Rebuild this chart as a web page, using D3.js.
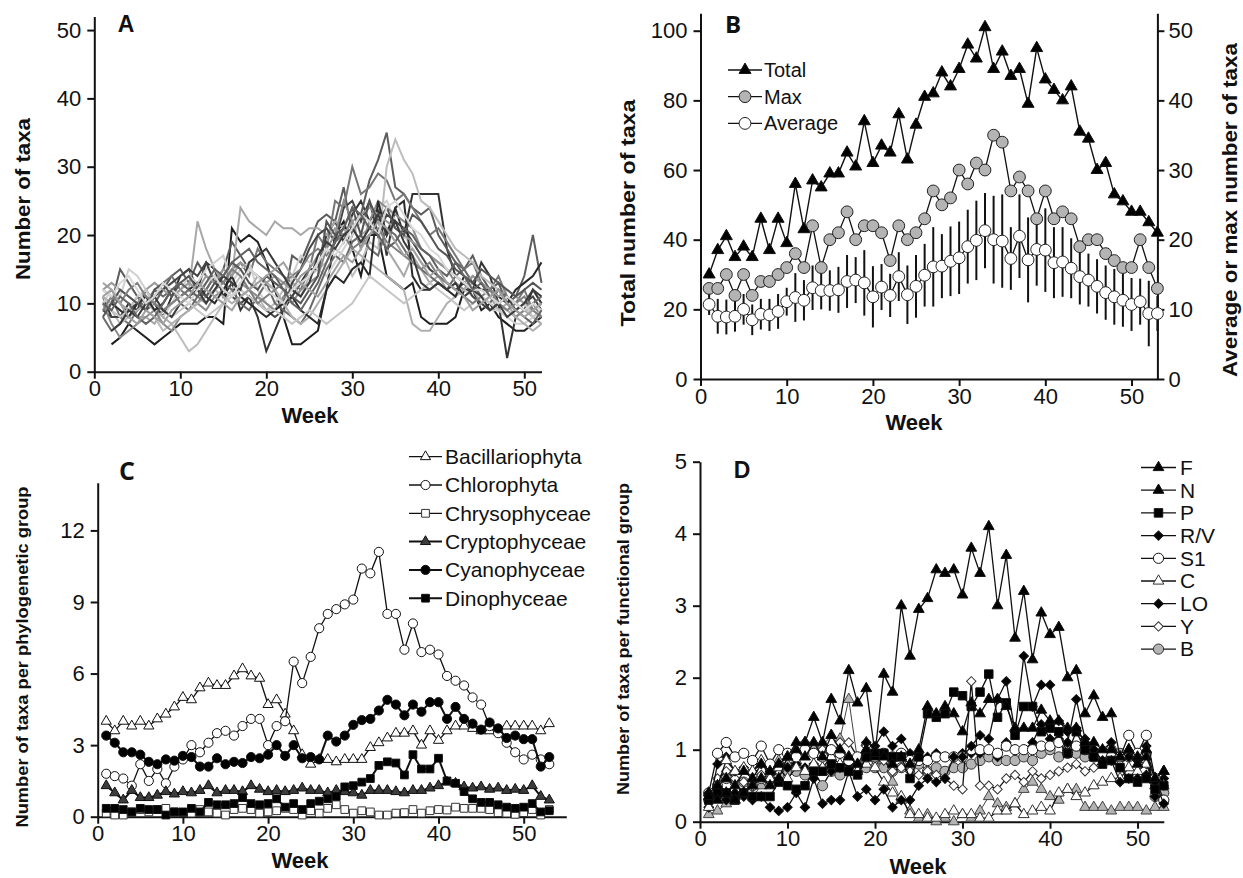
<!DOCTYPE html>
<html>
<head>
<meta charset="utf-8">
<script src="https://cdn.jsdelivr.net/npm/d3@7"></script>
<style>
  body { margin: 0; background: #fff; }
  svg { display: block; }
  text { font-family: "Liberation Sans", Arial, sans-serif; fill: #111; }
  .tick text { font-size: 22px; font-family: "Liberation Sans", Arial, sans-serif; }
  .domain, .tick line { stroke: #111; stroke-width: 2; }
</style>
</head>
<body>
<svg id="chart" width="1243" height="878"></svg>
<script>
// ---- Panel A: taxa per site, weeks 1..52 ----
const siteA01 = [null,4,5,7,6,5,4,5,6,7, 7,7,8,8,7,21,19,20,19,16, 12,8,4,4,5,6,12,20,22,18, 14,20,20,14,13,12,13,8,7,7, 7,8,12,12,9,10,8,7,6,6, 7,8];
const siteA02 = [11,8,8,10,9,12,10,8,11,14, 15,12,16,15,11,13,9,11,8,3, 6,9,11,13,15,15,20,22,19,23, 25,22,24,17,24,20,26,26,26,26, 18,14,13,12,16,14,10,2,8,9, 12,10];
const siteA03 = [9,10,15,13,11,9,10,12,14,15, 13,16,14,13,15,19,17,15,14,13, 12,10,17,16,19,22,23,22,27,20, 23,28,31,35,27,26,24,23,24,20, 18,16,15,17,14,12,13,10,11,14, 20,13];
const siteA04 = [12,11,8,7,9,10,11,13,14,12, 11,10,12,14,13,15,16,14,18,16, 15,14,13,12,15,20,18,25,24,30, 26,27,29,28,25,26,24,22,20,21, 19,17,15,16,13,12,14,11,10,12, 9,10];
const siteA05 = [13,12,10,9,8,8,7,9,10,11, 12,22,18,15,13,14,24,22,21,20, 22,21,21,20,21,21,20,22,21,19, 20,21,22,18,16,14,17,15,13,14, 12,13,11,12,10,11,9,10,8,9, 8,7];
const siteA06 = [11,9,7,8,10,9,8,6,7,5, 3,4,6,8,10,12,14,12,11,9, 10,12,13,11,14,15,16,18,17,14, 16,19,18,30,34,31,29,25,24,22, 20,18,17,16,14,13,12,11,10,9, 9,8];
const siteA07 = [10,12,11,15,14,12,9,8,10,12, 14,13,15,16,17,13,15,16,12,10, 9,8,14,17,16,15,14,16,18,20, 22,21,24,25,22,20,18,16,15,14, 13,12,12,11,10,9,9,8,7,7, 8,9];
const siteA08 = [9,8,8,9,10,9,11,12,13,14, 15,14,16,13,12,11,10,11,10,9, 8,9,13,15,18,20,21,19,24,25, 22,25,20,23,22,21,19,17,15,14, 13,12,13,11,10,9,10,11,9,10, 11,9];
const siteA09 = [8,6,7,9,11,10,12,11,12,10, 9,11,12,14,13,12,10,9,11,13, 10,9,8,7,9,12,15,17,16,19, 20,18,17,21,20,18,16,15,14,13, 12,14,15,13,11,10,12,11,10,9, 10,11];
const siteA10 = [10,7,5,6,7,8,9,7,6,8, 9,10,9,11,12,11,13,12,11,10, 9,11,10,12,13,14,18,20,25,22, 18,22,25,24,23,22,21,18,17,16, 15,13,12,14,13,11,10,9,8,9, 10,8];
const siteA11 = [11,10,9,8,9,10,9,8,7,8, 9,10,11,12,11,10,11,12,14,13, 12,10,8,7,8,10,12,14,16,18, 17,16,15,14,13,12,7,6,6,8, 10,11,12,13,12,11,10,9,8,7, 6,7];
const siteA12 = [null,10,9,8,10,11,9,10,12,11, 12,13,11,10,12,14,11,10,9,8, 9,10,11,9,8,7,12,14,13,15, 16,14,25,20,24,25,14,12,12,13, 12,11,14,13,12,12,11,10,12,13, 14,16];
const siteA13 = [12,13,12,11,10,12,13,12,11,12, 13,12,14,13,15,14,16,15,14,13, 14,13,12,14,15,17,19,21,20,22, 23,24,23,22,21,20,19,18,17,16, 15,14,13,14,13,12,11,12,11,10, 9,10];
const siteA14 = [10,9,8,9,11,12,10,9,8,9, 10,9,8,9,10,11,12,11,10,9, 9,8,7,8,9,8,7,8,9,10, 12,14,13,12,11,10,11,12,13,12, 11,10,9,10,11,10,9,8,9,10, 8,9];
const siteA15 = [8,10,12,11,10,9,12,13,11,13, 14,12,11,13,14,16,15,13,12,14, 13,12,11,10,12,14,22,20,21,24, 20,25,22,24,21,20,23,22,20,18, 17,15,14,13,15,14,13,12,11,12, 13,12];
const siteA16 = [9,11,10,12,13,11,10,9,10,11, 12,11,10,12,13,15,14,12,10,11, 12,13,14,15,17,18,17,19,20,18, 19,20,21,19,18,17,16,15,16,14, 13,12,11,10,11,12,10,9,10,11, 9,8];
const siteA17 = [null,6,7,9,8,10,11,9,8,10, 11,12,10,12,14,13,12,16,17,18, 16,14,12,11,13,17,19,18,20,21, 19,21,23,20,22,19,17,13,12,13, 12,13,11,12,11,9,10,8,9,10, 12,11];
const siteA18 = [12,11,13,14,12,10,11,13,12,11, 10,12,13,14,12,11,13,15,14,12, 11,10,12,13,14,16,18,17,19,21, 23,22,20,24,25,23,21,20,18,17, 15,14,13,12,12,11,10,11,10,9, 10,9];
const siteA19 = [10,9,11,10,8,7,8,10,12,13, 12,11,13,15,14,16,17,18,16,15, 14,12,10,9,11,13,16,19,21,24, 23,21,20,18,19,21,20,18,17,15, 14,16,14,12,13,11,12,10,9,8, 7,9];
const siteA20 = [11,12,10,8,7,9,8,7,9,10, 11,13,12,11,10,9,11,12,13,14, 15,16,14,13,12,11,13,15,17,16, 18,20,22,21,19,17,18,16,14,15, 13,12,11,9,10,11,12,10,9,8, 9,10];
const sitesA = [siteA01, siteA02, siteA03, siteA04, siteA05, siteA06, siteA07, siteA08, siteA09, siteA10,
                siteA11, siteA12, siteA13, siteA14, siteA15, siteA16, siteA17, siteA18, siteA19, siteA20];
const siteShades = ['#1e1e1e','#333','#5c5c5c','#777','#a8a8a8','#bcbcbc','#d0d0d0','#444','#6a6a6a','#8c8c8c',
                    '#b0b0b0','#2a2a2a','#999','#c6c6c6','#555','#808080','#3a3a3a','#d8d8d8','#626262','#a0a0a0'];

// ---- Panel B: weeks 1..53 ----
const totalTaxa = [30,37,41,35,38,35,46,37,46,39, 56,43,57,55,59,59,65,61,74,62, 67,65,76,63,73,81,82,88,84,89, 96,92,101,89,94,87,89,79,95,86, 83,80,84,71,69,60,62,53,51,48, 48,45,42];
const maxTaxa = [13,13,15,12,15,12,14,14,15,16, 18,16,22,16,20,21,24,20,22,22, 21,17,22,20,21,23,27,25,26,30, 28,31,30,35,34,27,29,27,23,27, 23,24,23,19,20,20,18,17,16,16, 20,16,13];
const avgTaxa = [10.7,9.0,8.9,9.0,10.0,8.5,9.3,9.2,9.7,11.1, 11.7,11.3,13.1,12.7,12.7,12.8,14.0,14.2,13.8,11.8, 13.2,12.0,14.7,12.1,13.3,14.9,16.1,16.2,16.9,17.4, 19.0,19.9,21.3,20.0,19.8,17.3,20.5,17.1,18.6,18.5, 16.7,16.8,15.9,14.7,14.2,13.3,12.4,11.8,11.3,10.7, 11.1,9.4,9.4];
const sdTaxa = [1.5,2.5,2.5,2.2,2.2,2.2,2.2,2.3,2.5,2.0, 3.5,2.9,3.2,2.7,2.9,3.3,3.8,3.3,4.7,4.4, 3.3,3.1,3.5,4.2,4.5,4.5,5.7,4.6,5.0,5.2, 5.3,5.7,5.4,6.3,6.7,4.5,6.0,6.1,5.2,6.0, 5.1,5.0,4.3,4.0,3.8,3.9,3.9,4.0,3.8,3.8, 3.3,4.7,2.5];

// ---- Panel C: phylogenetic groups, weeks 1..53 ----
const bacillariophyta = [4.0,3.6,4.0,3.8,4.0,3.8,4.1,4.3,4.6,5.0, 4.9,5.4,5.6,5.5,5.5,5.9,6.2,5.9,5.8,4.7, 4.9,4.3,3.6,2.6,2.2,2.4,2.4,2.3,2.4,2.4, 2.4,2.9,3.1,3.3,3.5,3.5,3.6,3.0,3.6,3.2, 3.6,3.8,3.8,3.7,3.6,3.6,3.6,3.8,3.8,3.8, 3.8,3.6,3.9];
const chlorophyta = [1.8,1.7,1.6,1.3,2.2,1.5,2.0,1.4,2.1,2.4, 3.0,2.7,3.1,3.5,3.6,3.4,3.8,4.1,4.1,3.0, 3.8,4.0,6.5,5.6,6.7,7.9,8.5,8.7,8.9,9.1, 10.4,10.2,11.1,8.5,8.5,7.0,8.1,6.9,7.0,6.8, 5.9,5.7,5.5,5.0,4.7,3.8,3.5,3.1,2.7,2.4, 2.6,2.4,2.2];
const chrysophyceae = [0.15,0.07,0.07,0.2,0.3,0.2,0.3,0.35,0.2,0.17, 0.15,0.3,0.2,0.15,0.07,0.3,0.35,0.3,0.15,0.2, 0.25,0.35,0.3,0.07,0.25,0.15,0.35,0.5,0.3,0.15, 0.25,0.2,0.07,0.07,0.15,0.17,0.3,0.15,0.25,0.3, 0.28,0.4,0.35,0.35,0.35,0.3,0.17,0.15,0.1,0.17, 0.3,0.07,0.3];
const cryptophyceae = [1.3,1.0,0.7,1.1,0.8,0.8,0.9,1.05,0.95,1.05, 1.0,1.1,1.3,1.0,1.1,1.1,1.05,1.3,1.15,1.05, 1.1,1.05,1.1,1.2,1.1,1.1,1.0,1.1,1.05,1.0, 0.9,1.1,1.1,1.1,1.05,1.0,1.1,1.1,1.2,1.3, 1.45,1.4,1.25,1.2,1.25,1.15,1.2,1.1,1.15,1.1, 1.3,0.85,0.7];
const cyanophyceae = [3.4,3.1,2.7,2.7,2.6,2.3,2.2,2.4,2.35,2.55, 2.5,2.1,2.1,2.45,2.2,2.3,2.25,2.5,2.45,2.6, 3.0,2.55,3.0,2.45,2.5,2.4,3.4,3.15,3.4,3.85, 4.05,4.1,4.45,4.9,4.7,4.25,4.7,4.4,4.8,4.8, 4.1,4.6,4.1,3.9,3.65,3.95,3.7,3.3,3.4,3.25, 3.25,2.1,2.5];
const dinophyceae = [0.35,0.35,0.3,0.2,0.35,0.3,0.3,0.07,0.2,0.2, 0.35,0.2,0.6,0.5,0.5,0.55,0.8,0.55,0.5,0.55, 0.75,0.4,0.55,0.3,0.55,0.65,0.75,0.85,1.25,1.3, 1.45,1.6,2.15,2.3,2.25,1.75,2.6,2.0,2.0,2.45, 1.5,1.4,1.05,0.75,0.6,0.6,0.5,0.4,0.35,0.4, 0.55,0.2,0.25];
const phyloNames = ['Bacillariophyta','Chlorophyta','Chrysophyceae','Cryptophyceae','Cyanophyceae','Dinophyceae'];

// ---- Panel D: functional groups, weeks 1..53 ----
const fgF = [0.35,0.3,0.4,0.3,0.4,0.5,0.6,0.5,0.6,0.9, 1.1,1.1,1.45,1.1,1.7,1.4,2.1,1.65,1.85,0.95, 2.05,1.8,3.0,2.3,2.95,3.1,3.5,3.45,3.5,3.15, 3.8,3.45,4.1,3.0,3.7,2.55,3.2,2.25,2.9,2.6, 2.7,2.0,2.1,1.5,1.75,1.45,1.5,0.9,1.0,0.9, 1.0,0.6,0.7];
const fgN = [0.4,0.5,0.6,0.5,0.7,0.6,0.8,0.7,0.8,0.9, 1.0,0.9,1.1,0.9,1.2,1.0,0.9,0.8,1.0,0.9, 0.9,0.8,0.9,0.8,1.0,1.6,1.5,1.6,1.5,1.25, 1.65,1.5,1.7,1.7,1.6,1.3,1.3,1.3,1.55,1.4, 1.4,1.3,1.3,1.1,1.1,1.0,1.0,0.9,1.0,0.8, 0.9,0.6,0.7];
const fgP = [0.3,0.4,0.4,0.3,0.4,0.35,0.35,0.35,0.55,0.5, 0.45,0.5,0.7,0.7,0.8,0.75,0.7,0.65,0.9,0.95, 0.95,0.9,0.9,0.6,0.9,1.5,1.45,1.5,1.8,1.75, 1.6,1.8,2.05,1.45,1.65,1.2,1.6,1.6,1.25,1.3, 1.25,0.95,1.25,1.0,0.9,0.8,0.85,0.75,0.6,0.55, 0.6,0.45,0.5];
const fgRV = [0.4,0.35,0.3,0.4,0.35,0.3,0.35,0.2,0.15,0.2, 0.4,0.2,0.6,0.25,0.3,0.3,0.7,0.35,0.45,0.3, 0.45,0.2,0.3,0.3,0.5,0.6,0.55,0.6,0.9,0.9, 1.05,1.2,1.15,1.7,1.95,1.25,2.3,1.6,1.9,1.9, 1.4,1.25,1.3,1.1,1.0,0.85,0.85,0.55,0.6,0.6, 0.65,0.55,0.25];
const fgS1 = [0.2,0.8,0.9,0.7,0.75,0.7,0.8,0.7,0.8,0.75, 0.8,0.75,0.8,0.75,0.7,0.75,0.8,0.8,1.1,1.05, 1.25,1.05,1.15,0.95,0.9,0.9,0.95,0.9,0.9,0.95, 0.95,0.95,1.0,0.9,1.1,1.0,1.0,1.1,1.35,1.15, 1.15,1.1,1.7,1.15,1.0,1.0,1.1,0.9,0.9,0.85, 1.05,0.35,0.6];
const fgC = [0.2,0.6,0.7,0.6,0.55,0.5,0.65,0.6,0.7,0.75, 0.8,1.1,0.95,1.0,0.9,1.1,1.1,0.9,1.05,0.85, 0.85,0.7,0.75,0.7,0.65,0.7,0.65,0.6,0.5,0.45, 1.95,0.5,0.5,0.45,0.6,0.65,0.55,0.7,0.6,0.65, 0.7,0.75,0.8,0.7,0.75,0.85,0.9,0.85,0.9,0.85, 0.8,0.5,0.5];
const fgLO = [0.4,0.95,1.1,0.9,0.95,0.85,1.05,0.8,1.0,0.95, 0.9,1.0,0.95,0.9,1.0,0.95,0.85,0.9,0.9,0.9, 0.95,0.9,0.95,0.85,0.85,0.85,0.9,0.9,0.9,0.9, 1.0,1.0,1.0,0.95,1.05,1.0,1.0,1.0,1.05,1.05, 1.1,0.95,1.05,1.0,0.9,0.95,0.9,0.9,1.2,0.95, 1.2,0.6,0.3];
const fgY = [0.3,0.5,0.6,0.55,0.55,0.5,0.6,0.6,0.65,0.7, 0.7,0.65,0.7,0.5,0.7,0.65,0.8,0.7,0.75,0.75, 0.75,0.7,0.75,0.75,0.8,0.7,0.75,0.7,0.75,0.75, 0.8,0.85,0.9,0.85,0.85,0.85,0.9,0.85,0.95,1.0, 0.9,1.0,0.95,0.9,0.95,0.9,1.0,0.95,0.9,0.9, 0.95,0.35,0.4];
const fgB = [0.2,0.5,0.85,0.7,0.75,0.7,0.85,0.6,0.75,0.6, 0.75,0.7,0.8,0.75,0.9,0.8,0.9,0.7,0.8,0.75, 0.55,0.4,0.35,0.1,0.1,0.05,0.05,0.1,0.15,0.1, 0.1,0.05,0.05,0.15,0.15,0.25,0.1,0.15,0.2,0.15, 0.4,0.45,0.35,0.4,0.5,0.55,0.6,0.6,0.75,0.7, 0.8,0.5,0.5];
// grey triangles drawn in the plot without a legend entry
const fgGreyTri = [0.1,0.15,0.25,0.35,0.4,0.35,0.5,0.55,0.85,0.8, 0.85,1.1,1.05,1.05,1.2,1.15,1.7,0.85,1.1,0.9, 0.85,0.55,0.3,0.15,0.05,0.1,0.0,0.05,0.0,0.1, 0.05,0.15,0.35,0.25,0.2,0.25,0.45,0.55,0.45,0.35, 0.3,0.45,0.45,0.2,0.2,0.2,0.15,0.2,0.2,0.2, 0.15,0.2,0.2];
const functionalNames = ['F','N','P','R/V','S1','C','LO','Y','B'];

const svg = d3.select('#chart');
const fmt = d3.format('d');

const markerPath = (shape, size) => {
    const type = { tri: d3.symbolTriangle, circle: d3.symbolCircle, square: d3.symbolSquare, diamond: d3.symbolSquare }[shape];
    return d3.symbol().type(type).size(size)();
};

const makePanel = (o) => {
    const x = d3.scaleLinear().domain(o.xDomain).range(o.xRange);
    const y = d3.scaleLinear().domain(o.yDomain).range(o.yRange);
    const g = svg.append('g');

    g.append('g')
        .attr('transform', `translate(0,${o.yRange[0]})`)
        .call(d3.axisBottom(x).tickValues(d3.range(0, 51, 10)).tickFormat(fmt)
            .tickSize(7).tickSizeOuter(0).tickPadding(2));

    g.append('g')
        .attr('transform', `translate(${o.xRange[0]},0)`)
        .call(d3.axisLeft(y).tickValues(o.yTicks).tickFormat(fmt)
            .tickSize(7).tickSizeOuter(0).tickPadding(6));

    return { x, y, g };
};

const title = (t, x, y, size, len, rotate) => {
    svg.append('text')
        .attr('transform', `translate(${x},${y})${rotate ? ' rotate(-90)' : ''}`)
        .attr('text-anchor', 'middle')
        .attr('dy', '0.35em')
        .attr('font-size', size)
        .attr('font-weight', 'bold')
        .attr('textLength', len)
        .attr('lengthAdjust', 'spacingAndGlyphs')
        .text(t);
};

const letter = (t, x, y, size, family) => {
    svg.append('text')
        .attr('x', x).attr('y', y)
        .attr('text-anchor', 'middle').attr('dy', '0.35em')
        .attr('font-size', size).attr('font-weight', 'bold')
        .style('font-family', family)
        .text(t);
};

const drawSeries = (p, vals, st) => {
    const pts = vals.map((v, i) => ({ w: i + 1, v })).filter(d => d.v != null);
    p.g.append('path').datum(pts)
        .attr('fill', 'none')
        .attr('stroke', st.line || '#111')
        .attr('stroke-width', st.lw || 1.3)
        .attr('d', d3.line().x(d => p.x(d.w)).y(d => p.y(d.v)));
    if (!st.shape) return;
    p.g.selectAll(null).data(pts).enter().append('path')
        .attr('d', markerPath(st.shape, st.size))
        .attr('transform', d => `translate(${p.x(d.w)},${p.y(d.v)})${st.shape === 'diamond' ? ' rotate(45)' : ''}`)
        .attr('fill', st.fill)
        .attr('stroke', st.stroke || '#111')
        .attr('stroke-width', 1);
};

const legend = (items, styles, x1, x2, tx, y0, dy, size) => {
    items.forEach((name, i) => {
        const st = styles[i];
        const y = y0 + i * dy;
        const mx = (x1 + x2) / 2;
        svg.append('line').attr('x1', x1).attr('x2', x2).attr('y1', y).attr('y2', y)
            .attr('stroke', '#111').attr('stroke-width', st.lw || 1.3);
        svg.append('path')
            .attr('d', markerPath(st.shape, st.size))
            .attr('transform', `translate(${mx},${y})${st.shape === 'diamond' ? ' rotate(45)' : ''}`)
            .attr('fill', st.fill).attr('stroke', st.stroke || '#111').attr('stroke-width', 1);
        svg.append('text').attr('x', tx).attr('y', y).attr('dy', '0.35em')
            .attr('font-size', size).text(name);
    });
};

// ===== Panel A =====
const pA = makePanel({ xDomain: [0, 52], xRange: [94.3, 541.5], yDomain: [0, 52], yRange: [371.7, 16.4], yTicks: d3.range(0, 51, 10) });
sitesA.forEach((s, i) => drawSeries(pA, s, { line: siteShades[i], lw: 2 }));
title('Number of taxa', 23, 199, 20, 162, true);
title('Week', 310, 415, 22, 57, false);
letter('A', 126, 24, 23, '"Liberation Sans", Arial, sans-serif');

// ===== Panel B =====
const pB = makePanel({ xDomain: [0, 53], xRange: [700.5, 1157.4], yDomain: [0, 105], yRange: [379, 13.3], yTicks: d3.range(0, 101, 20) });
const yRight = d3.scaleLinear().domain([0, 52.5]).range([379, 13.3]);
pB.g.append('g')
    .attr('transform', `translate(1157.4,0)`)
    .call(d3.axisRight(yRight).tickValues(d3.range(0, 51, 10)).tickFormat(fmt)
        .tickSize(7).tickSizeOuter(0).tickPadding(4));

// error bars behind the average markers
pB.g.selectAll(null).data(avgTaxa.map((v, i) => ({ w: i + 1, v, sd: sdTaxa[i] }))).enter().append('line')
    .attr('x1', d => pB.x(d.w)).attr('x2', d => pB.x(d.w))
    .attr('y1', d => yRight(d.v - d.sd)).attr('y2', d => yRight(d.v + d.sd))
    .attr('stroke', '#111').attr('stroke-width', 2);

const pBRight = { x: pB.x, y: yRight, g: pB.g };
const stB = [
    { shape: 'tri', size: 62, fill: '#000', lw: 1.4 },
    { shape: 'circle', size: 110, fill: '#b4b4b4', stroke: '#222' },
    { shape: 'circle', size: 110, fill: '#fff', stroke: '#222' }
];
drawSeries(pBRight, avgTaxa, stB[2]);
drawSeries(pBRight, maxTaxa, stB[1]);
drawSeries(pB, totalTaxa, stB[0]);
legend(['Total', 'Max', 'Average'], stB, 728, 762, 764, 70, 26.7, 20);
title('Total number of taxa', 628, 213, 20, 227, true);
title('Average or max number of taxa', 1230, 210, 20, 334, true);
title('Week', 914, 422, 22, 57, false);
letter('B', 733, 25, 24, '"Open Sans", sans-serif');

// ===== Panel C =====
const pC = makePanel({ xDomain: [0, 55], xRange: [97.7, 566.3], yDomain: [0, 14], yRange: [816.7, 482.7], yTicks: [0, 3, 6, 9, 12] });
const stC = [
    { shape: 'tri', size: 45, fill: '#fff' },
    { shape: 'circle', size: 66, fill: '#fff' },
    { shape: 'square', size: 60, fill: '#fff', stroke: '#333' },
    { shape: 'tri', size: 45, fill: '#3c3c3c', lw: 2 },
    { shape: 'circle', size: 66, fill: '#000', lw: 2 },
    { shape: 'square', size: 60, fill: '#000', lw: 2 }
];
[bacillariophyta, chlorophyta, chrysophyceae, cryptophyceae, cyanophyceae, dinophyceae]
    .forEach((s, i) => drawSeries(pC, s, stC[i]));
legend(phyloNames, stC, 409, 442, 445, 456.7, 28.3, 21);
title('Number of taxa per phylogenetic group', 22, 657, 17, 341, true);
title('Week', 300, 860, 22, 57, false);
letter('C', 127, 471, 25, '"Open Sans", sans-serif');

// ===== Panel D =====
const pD = makePanel({ xDomain: [0, 53], xRange: [700, 1163.8], yDomain: [0, 5], yRange: [821.7, 461.7], yTicks: d3.range(0, 6) });
const stD = [
    { shape: 'tri', size: 50, fill: '#000' },
    { shape: 'tri', size: 50, fill: '#000' },
    { shape: 'square', size: 72, fill: '#000' },
    { shape: 'diamond', size: 44, fill: '#000' },
    { shape: 'circle', size: 82, fill: '#fff' },
    { shape: 'tri', size: 50, fill: '#fff', stroke: '#333' },
    { shape: 'diamond', size: 44, fill: '#000' },
    { shape: 'diamond', size: 44, fill: '#fff', stroke: '#333' },
    { shape: 'circle', size: 82, fill: '#b4b4b4', stroke: '#333' }
];
drawSeries(pD, fgGreyTri, { shape: 'tri', size: 50, fill: '#b4b4b4', stroke: '#444', line: '#444', lw: 1 });
[fgY, fgC, fgS1, fgB, fgLO, fgRV, fgP, fgN, fgF].forEach((s, i) => drawSeries(pD, s, stD[8 - i]));
legend(functionalNames, stD, 1141, 1176, 1180, 467.5, 22.7, 21);
title('Number of taxa per functional group', 623, 639, 16.5, 312, true);
title('Week', 918, 866, 22, 57, false);
letter('D', 742, 470, 23, '"Liberation Sans", Arial, sans-serif');
</script>
</body>
</html>
